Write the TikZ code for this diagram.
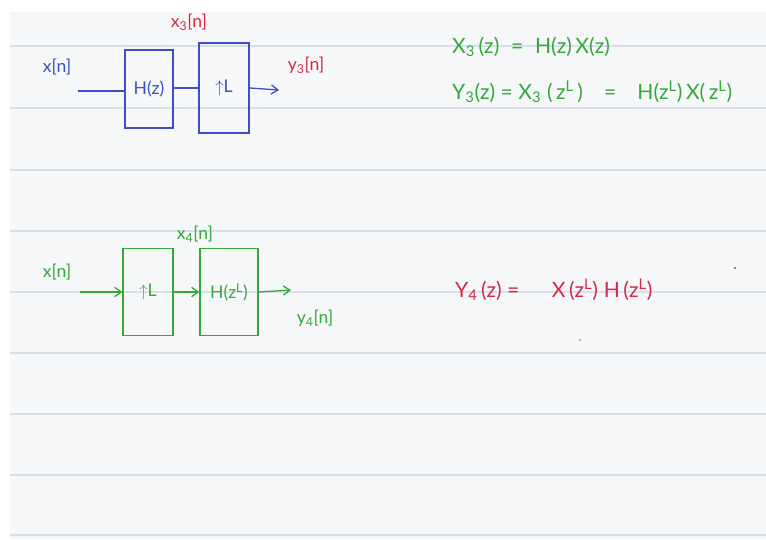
\documentclass[tikz,border=0pt]{standalone}
\usepackage{fontspec}
\setmainfont{Lato}
\usetikzlibrary{arrows.meta, positioning, calc}
\definecolor{paper}{HTML}{F6F7F9}
\definecolor{ruleline}{HTML}{D8DFEA}
\definecolor{penblue}{HTML}{3C4FC4}
\definecolor{penred}{HTML}{D42A45}
\definecolor{pengreen}{HTML}{35A83A}

\begin{document}
\begin{tikzpicture}[
  x=0.03cm, y=-0.03cm,
  every node/.style={font=\fontsize{15}{18}\selectfont, inner sep=0pt},
  block/.style={rectangle, draw, line width=1.1pt, minimum width=1.45cm, minimum height=2.4cm},
  wire/.style={line width=1.1pt},
  sig/.style={line width=1.1pt, -{Straight Barb[length=2mm, width=2.8mm]}},
  eqn/.style={anchor=west, font=\fontsize{18}{21}\selectfont},
]
  % paper and ruling
  \useasboundingbox (0,0) rectangle (766,539);
  \fill[white] (0,0) rectangle (766,539);
  \fill[paper] (10,12) rectangle (766,539);
  \foreach \ry in {46,108,170,231,292,353,414,475,535}
    \draw[ruleline, line width=1.2pt] (10,\ry) -- (766,\ry);

  % top system: filter, then upsampler
  \begin{scope}[penblue]
    \coordinate (tin) at (78,91);
    \coordinate (tout) at (279,90);
    \node (tx) at (57,67) {x[n]};
    \node[block, minimum width=1.44cm, minimum height=2.34cm] (tH) at (149,89) {H(z)};
    \node[block, minimum width=1.5cm, minimum height=2.7cm] (tU) at (224,88) {$\uparrow$L};
    \draw[wire] (tin) -- (tH.west|-tin);
    \draw[wire] (tH.east|-tU) -- (tU.west);
    \draw[sig] (tU.east) -- (tout);
  \end{scope}
  \node[text=penred] (tx3) at (189,22) {x\textsubscript{3}[n]};
  \node[text=penred] (ty3) at (306,65) {y\textsubscript{3}[n]};

  % top equations
  \node[eqn, text=pengreen] (eq1) at (452,47) {X\textsubscript{3}\,(z)\;\;=\;\;H(z)\,X(z)};
  \node[eqn, text=pengreen] (eq2) at (452,92) {Y\textsubscript{3}(z) = X\textsubscript{3}\;(\,z\textsuperscript{L}\,)\quad=\quad H(z\textsuperscript{L})\,X(\,z\textsuperscript{L})};

  % bottom system: upsampler, then filter
  \begin{scope}[pengreen]
    \coordinate (bin) at (80,292);
    \coordinate (bout) at (291,290);
    \node (bx) at (57,272) {x[n]};
    \node[block, minimum width=1.5cm, minimum height=2.6cm] (bU) at (148,292) {$\uparrow$L};
    \node[block, minimum width=1.74cm, minimum height=2.6cm] (bH) at (229,292) {H(z\textsuperscript{L})};
    \draw[sig] (bin) -- (bU.west|-bin);
    \draw[sig] (bU.east) -- (bH.west);
    \draw[sig] (bH.east) -- (bout);
    \node (bx4) at (195,234) {x\textsubscript{4}[n]};
    \node (by4) at (315,318) {y\textsubscript{4}[n]};
  \end{scope}

  % bottom equation
  \node[eqn, text=penred] (eq3) at (455,290) {Y\textsubscript{4}\,(z) =\quad\; X\,(z\textsuperscript{L})\;H\,(z\textsuperscript{L})};

  % stray pen marks
  \fill[black!60] (735,268) circle (1.2);
  \fill[black!40] (580,340) circle (1);
\end{tikzpicture}
\end{document}
